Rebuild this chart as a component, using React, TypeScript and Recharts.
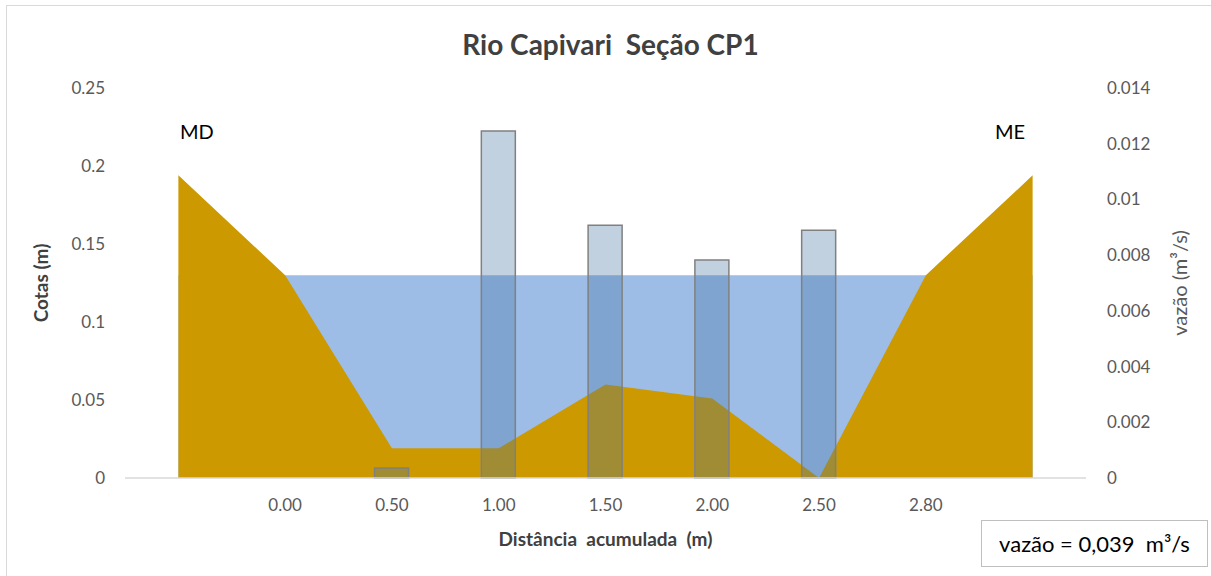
import React from 'react';
import { ComposedChart, Area, Bar, XAxis, YAxis, Label } from 'recharts';

// Cross-section stations (first and last slots are the bank crests, unlabeled)
const stations = ['', '0.00', '0.50', '1.00', '1.50', '2.00', '2.50', '2.80', ''];
// Bed elevation (m)
const bedLevel = [0.194, 0.13, 0.019, 0.019, 0.06, 0.051, 0, 0.13, 0.194];
// Water surface elevation (m)
const waterLevel = [0.13, 0.13, 0.13, 0.13, 0.13, 0.13, 0.13, 0.13, 0.13];
// Partial discharge per vertical (m³/s)
const discharge = [null, null, 0.00036, 0.01246, 0.00907, 0.00783, 0.00889, null, null];

const leftTicks = [0, 0.05, 0.1, 0.15, 0.2, 0.25];
const rightTicks = [0, 0.002, 0.004, 0.006, 0.008, 0.01, 0.012, 0.014];
const rightTickLabels = ['0', '0.002', '0.004', '0.006', '0.008', '0.01', '0.012', '0.014'];

const data = stations.map((s, i) => ({
  idx: i,
  bed: bedLevel[i],
  water: waterLevel[i],
  q: discharge[i],
}));

const FONT = 'Lato, "Noto Sans", sans-serif';
const tickStyle = { fill: '#595959', fontSize: 17, fontFamily: FONT };
const NB = '\u00a0';

export default function App() {
  return (
    <div style={{ position: 'absolute', left: 0, top: 0, width: 1211, height: 576, background: '#fff', overflow: 'hidden', fontFamily: FONT }}>
      <div style={{ position: 'absolute', left: 6, top: 5, width: 1220, height: 600, border: '1px solid #d9d9d9' }} />
      <div style={{ position: 'absolute', left: 0, top: 27, width: 1221, textAlign: 'center', fontSize: 28, fontWeight: 700, color: '#404040', whiteSpace: 'pre' }}>
        {'Rio Capivari  Seção CP1'}
      </div>
      <ComposedChart
        width={1211}
        height={576}
        data={data}
        margin={{ top: 88, right: 45, bottom: 38, left: 45 }}
        style={{ position: 'absolute', left: 0, top: 0 }}
      >
        <XAxis
          dataKey="idx"
          type="category"
          tickFormatter={(v: number) => stations[v]}
          axisLine={{ stroke: '#d9d9d9', strokeWidth: 1.5 }}
          tickLine={false}
          tickSize={0}
          tickMargin={21}
          tick={tickStyle}
          height={60}
          interval={0}
        >
          <Label value={`Distância${NB}${NB}acumulada${NB}${NB}(m)`} position="insideBottom" offset={-8} style={{ fill: '#404040', fontSize: 19, fontWeight: 700, fontFamily: FONT }} />
        </XAxis>
        <YAxis
          yAxisId="left"
          domain={[0, 0.25]}
          ticks={leftTicks}
          axisLine={false}
          tickLine={false}
          tickSize={0}
          tickMargin={20}
          tick={tickStyle}
          width={80}
        >
          <Label value="Cotas (m)" angle={-90} position="insideLeft" offset={-4} style={{ fill: '#404040', fontSize: 19, fontWeight: 700, fontFamily: FONT, textAnchor: 'middle' }} />
        </YAxis>
        <YAxis
          yAxisId="right"
          orientation="right"
          domain={[0, 0.014]}
          ticks={rightTicks}
          tickFormatter={(v: number) => rightTickLabels[rightTicks.indexOf(v)] ?? String(v)}
          axisLine={false}
          tickLine={false}
          tickSize={0}
          tickMargin={21}
          tick={{ ...tickStyle, textAnchor: 'start' }}
          width={80}
        >
          <Label value="vazão (m³/s)" angle={-90} position="insideRight" offset={-14} style={{ fill: '#595959', fontSize: 20, fontFamily: FONT, textAnchor: 'middle' }} />
        </YAxis>
        <Area yAxisId="left" type="linear" dataKey="water" fill="#9dbde6" fillOpacity={1} stroke="none" isAnimationActive={false} />
        <Area yAxisId="left" type="linear" dataKey="bed" fill="#cc9900" fillOpacity={1} stroke="none" isAnimationActive={false} />
        <Bar yAxisId="right" dataKey="q" barSize={34} fill="rgb(66,114,162)" fillOpacity={0.33} stroke="#808080" strokeWidth={1.5} isAnimationActive={false} />
      </ComposedChart>
      <div style={{ position: 'absolute', left: 180, top: 119, fontSize: 20, color: '#000' }}>MD</div>
      <div style={{ position: 'absolute', left: 995, top: 119, fontSize: 20, color: '#000' }}>ME</div>
      <div style={{ position: 'absolute', left: 981, top: 520, width: 227, height: 47, boxSizing: 'border-box', border: '1.5px solid #bfbfbf', display: 'flex', alignItems: 'center', justifyContent: 'center', fontSize: 22, color: '#000', whiteSpace: 'pre' }}>
        {'vazão = 0,039  m³/s'}
      </div>
    </div>
  );
}
